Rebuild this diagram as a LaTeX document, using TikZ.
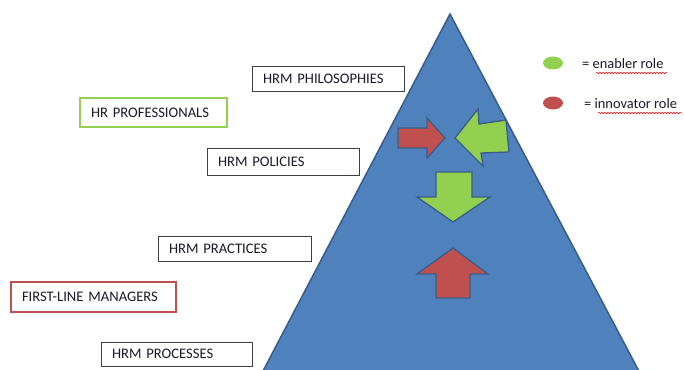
\documentclass[tikz,border=0pt]{standalone}
\usepackage{fontspec}
\setmainfont{Carlito}
\usetikzlibrary{shapes.geometric,decorations.pathmorphing}
\definecolor{triblue}{HTML}{4F81BD}
\definecolor{triedge}{HTML}{385D8A}
\definecolor{enabler}{HTML}{92D050}
\definecolor{innovator}{HTML}{C0504D}
\definecolor{boxedge}{HTML}{3F3F3F}
\definecolor{inktext}{HTML}{1A1A2A}
\tikzset{
  levelbox/.style={draw=boxedge, line width=0.9, fill=white, inner xsep=11, inner ysep=0,
    align=left, text=inktext, font=\fontsize{14.6}{16}\selectfont},
  enablerbox/.style={levelbox, draw=enabler, line width=2},
  innovatorbox/.style={levelbox, draw=innovator, line width=2},
  rolearrow/.style={draw=triedge, line width=1.3, line join=miter},
  legenddot/.style={ellipse, draw=none, minimum width=20, minimum height=13, inner sep=0},
  legendtext/.style={anchor=west, inner sep=0, text=inktext, font=\fontsize{14.4}{16}\selectfont},
  spellmark/.style={draw=red, line width=0.5, decorate, decoration={snake, amplitude=0.8, segment length=3}}
}
\begin{document}
\begin{tikzpicture}[x=1pt, y=-1pt]
\useasboundingbox (0,0) rectangle (684,369);
\clip (0,0) rectangle (684,369);

% the pyramid
\path[fill=triblue, draw=triedge, line width=1.5, line join=miter]
  (450,14) -- (650,392) -- (252,392) -- cycle;

% level boxes
\node[levelbox, text width=130, minimum height=25] (philo) at (328,78.5) {HRM PHILOSOPHIES};
\node[enablerbox, text width=125, minimum height=29] (hrpro) at (153.5,112.5) {HR PROFESSIONALS};
\node[levelbox, text width=130, minimum height=27] (policies) at (283,161.5) {HRM POLICIES};
\node[levelbox, text width=131, minimum height=25] (practices) at (234.5,248.5) {HRM PRACTICES};
\node[innovatorbox, text width=143, minimum height=30] (flm) at (93.5,297) {FIRST-LINE MANAGERS};
\node[levelbox, text width=129, minimum height=24] (processes) at (176.5,354) {HRM PROCESSES};

% role arrows inside the pyramid
\path[rolearrow, fill=innovator]
  (398,128) -- (427,128) -- (427,118) -- (445,138) -- (427,158) -- (427,148) -- (398,148) -- cycle;
\path[rolearrow, fill=enabler]
  (455,138) -- (478,109) -- (479,124) -- (506,120) -- (509,152) -- (481,153) -- (483,166) -- cycle;
\path[rolearrow, fill=enabler]
  (436,172) -- (472,172) -- (472,197) -- (490,197) -- (453,222) -- (417,197) -- (436,197) -- cycle;
\path[rolearrow, fill=innovator]
  (453,248) -- (488,274) -- (470,274) -- (470,298) -- (436,298) -- (436,274) -- (417,274) -- cycle;

% legend
\node[legenddot, fill=enabler] (dotA) at (553,63) {};
\node[legendtext] (keyA) at (582,64) {= enabler role};
\node[legenddot, fill=innovator] (dotB) at (553,103) {};
\node[legendtext] (keyB) at (584,104) {= innovator role};
\draw[spellmark] (596,73) -- (667,73);
\draw[spellmark] (598,113) -- (682,113);
\end{tikzpicture}
\end{document}
